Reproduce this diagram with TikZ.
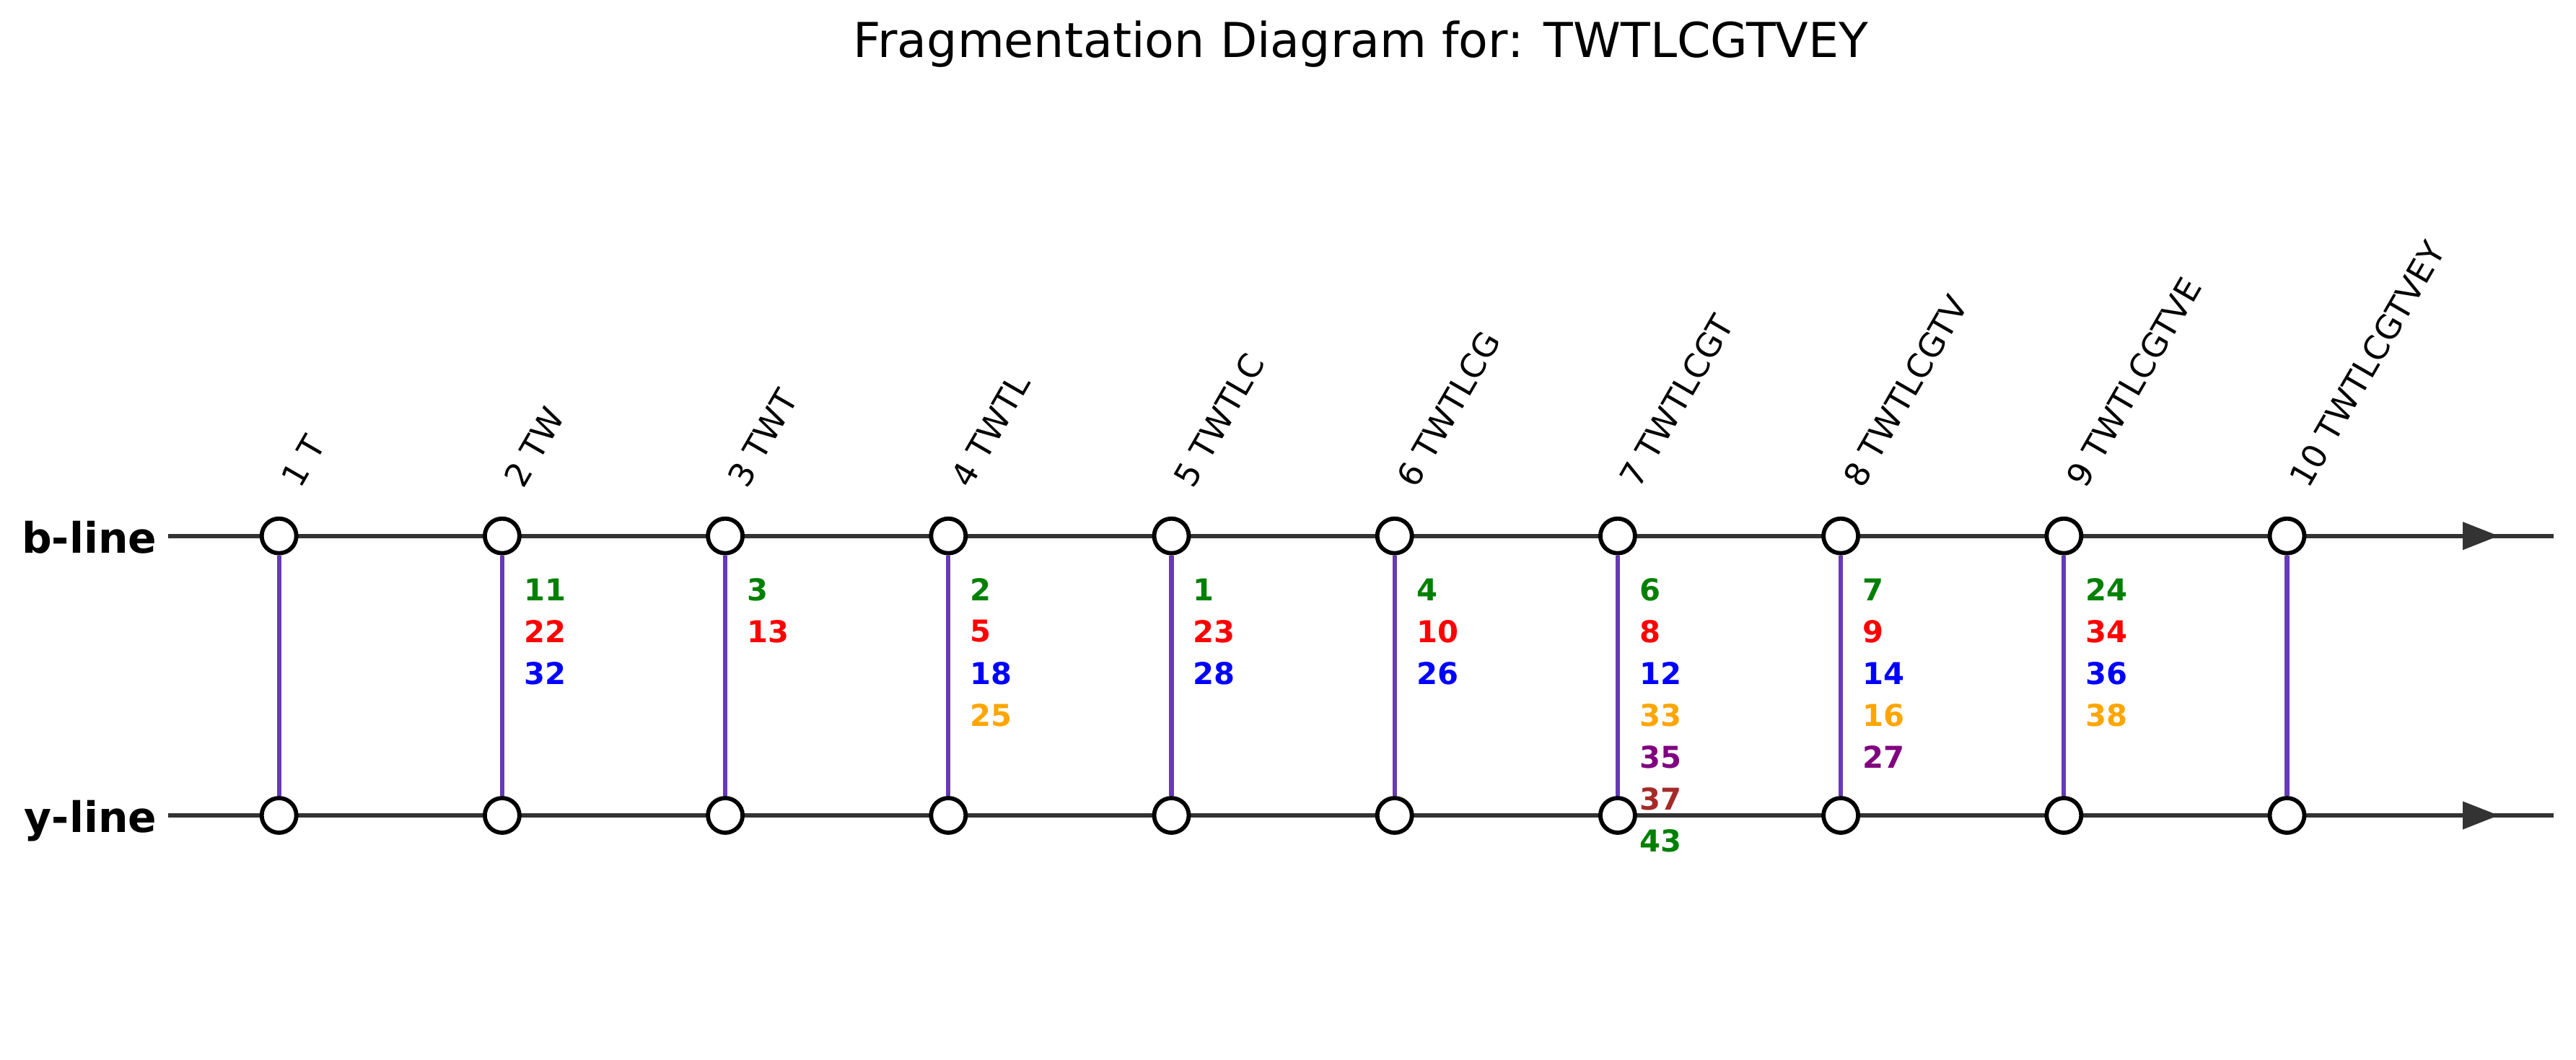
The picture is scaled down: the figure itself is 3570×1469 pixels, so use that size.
\documentclass[tikz,border=0pt]{standalone}
\usepackage{fontspec}
\setmainfont{DejaVu Sans}
\usetikzlibrary{arrows.meta}
\definecolor{linegray}{HTML}{333333}
\definecolor{vpurple}{HTML}{673AB7}
\definecolor{mgreen}{HTML}{008000}
\definecolor{mred}{HTML}{FF0000}
\definecolor{mblue}{HTML}{0000FF}
\definecolor{morange}{HTML}{FFA500}
\definecolor{mpurple}{HTML}{800080}
\definecolor{mbrown}{HTML}{A52A2A}
\begin{document}
\begin{tikzpicture}[x=0.24pt,y=-0.24pt,
  hline/.style={draw=linegray, line width=1.4pt},
  vline/.style={draw=vpurple, line width=1.5pt},
  site/.style={circle, draw=black, fill=white, line width=1.4pt, minimum size=11.52pt, inner sep=0pt},
  fraglabel/.style={rotate=60, anchor=base west, inner sep=0pt, font=\fontsize{11}{13}\selectfont},
  ionnum/.style={anchor=west, inner sep=0pt, font=\fontsize{10}{12}\selectfont\bfseries},
  linelabel/.style={anchor=base east, inner sep=0pt, font=\fontsize{14}{17}\selectfont\bfseries},
  titlestyle/.style={anchor=base, inner sep=0pt, font=\fontsize{16}{19}\selectfont},
  tipstyle/.style={-{Triangle[length=12pt,width=9pt]}}
]
\useasboundingbox (0,0) rectangle (3570,1469);

% title
\node[titlestyle] (title) at (1886,80) {Fragmentation Diagram for: TWTLCGTVEY};

% line labels
\node[linelabel] (blabel) at (218,766) {b-line};
\node[linelabel] (ylabel) at (218,1153) {y-line};

% horizontal lines
\coordinate (bstart) at (233,742.7);
\coordinate (bend) at (3539,742.7);
\coordinate (bshaft) at (3320,742.7);
\coordinate (btip) at (3463,742.7);
\coordinate (ystart) at (233,1130);
\coordinate (yend) at (3539,1130);
\coordinate (yshaft) at (3320,1130);
\coordinate (ytip) at (3463,1130);
\draw[hline] (bstart) -- (bend);
\draw[hline] (ystart) -- (yend);
\draw[hline, fill=linegray, tipstyle] (bshaft) -- (btip);
\draw[hline, fill=linegray, tipstyle] (yshaft) -- (ytip);

% sites
\foreach \i/\lab in {1/1 T,2/2 TW,3/3 TWT,4/4 TWTL,5/5 TWTLC,6/6 TWTLCG,7/7 TWTLCGT,8/8 TWTLCGTV,9/9 TWTLCGTVE,10/10 TWTLCGTVEY}{
  \pgfmathsetmacro{\xx}{386.7+309.2*(\i-1)}
  \node[site] (b\i) at (\xx,742.7) {};
  \node[site] (y\i) at (\xx,1130) {};
  \draw[vline] (b\i) -- (y\i);
  \node[fraglabel] (lab\i) at ({\xx+29.5},679) {\lab};
}

% ion numbers
\foreach \n/\vals in {
  2/{11/mgreen,22/mred,32/mblue},
  3/{3/mgreen,13/mred},
  4/{2/mgreen,5/mred,18/mblue,25/morange},
  5/{1/mgreen,23/mred,28/mblue},
  6/{4/mgreen,10/mred,26/mblue},
  7/{6/mgreen,8/mred,12/mblue,33/morange,35/mpurple,37/mbrown,43/mgreen},
  8/{7/mgreen,9/mred,14/mblue,16/morange,27/mpurple},
  9/{24/mgreen,34/mred,36/mblue,38/morange}}{
  \foreach \v/\c [count=\k from 0] in \vals {
    \node[ionnum, text=\c] (num\n-\k) at ({386.7+309.2*(\n-1)+29.5},{817+58*\k}) {\v};
  }
}
\end{tikzpicture}
\end{document}
